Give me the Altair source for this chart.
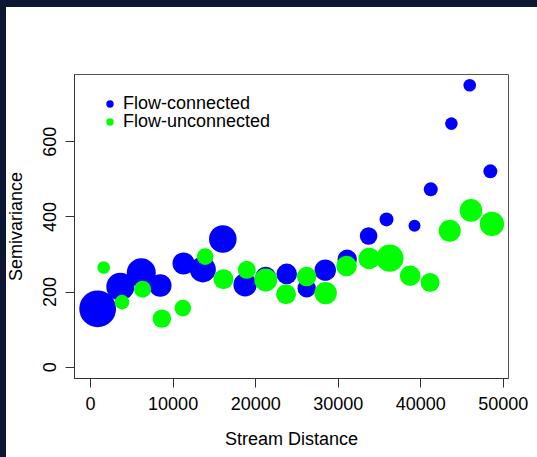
import altair as alt
import pandas as pd

# Torgegram: empirical semivariance per stream-distance bin, bubble size ~ number of pairs
connected_dist = [919, 3664, 6203, 8500, 11320, 13660, 16080, 18780, 21280, 23820,
                  26240, 28490, 31150, 33740, 35910, 39300, 41270, 43770, 45990, 48490]
connected_gamma = [154, 213, 250, 216, 275, 259, 340, 218, 238, 247,
                   209, 257, 286, 348, 392, 375, 472, 647, 749, 520]
connected_pairs = [184, 140, 145, 113, 110, 130, 138, 117, 105, 103,
                   92, 107, 97, 88, 70, 60, 70, 63, 63, 70]

unconnected_dist = [1650, 3870, 6360, 8700, 11240, 13940, 16160, 18980, 21280, 23740,
                    26240, 28540, 31070, 33810, 36310, 38770, 41190, 43570, 46140, 48680]
unconnected_gamma = [264, 172, 206, 128, 156, 293, 233, 258, 231, 193,
                     240, 196, 268, 288, 289, 242, 224, 362, 416, 380]
unconnected_pairs = [63, 73, 85, 92, 83, 83, 100, 90, 115, 100,
                     97, 112, 103, 107, 137, 103, 95, 110, 113, 122]

groups = ["Flow-connected", "Flow-unconnected"]
x_ticks = [0, 10000, 20000, 30000, 40000, 50000]
y_ticks = [0, 200, 400, 600]

df = pd.concat([
    pd.DataFrame({"distance": connected_dist, "gamma": connected_gamma,
                  "pairs": connected_pairs, "group": groups[0], "draw": 0}),
    pd.DataFrame({"distance": unconnected_dist, "gamma": unconnected_gamma,
                  "pairs": unconnected_pairs, "group": groups[1], "draw": 1}),
], ignore_index=True)

FONT = "Liberation Sans"
W, H = 434, 304
LEFT, TOP = 74, 74
TOTAL_W, TOTAL_H = 537, 457
NAVY = "#0b1733"

x_scale = alt.Scale(domain=[-1947, 50627], nice=False, zero=False)
y_scale = alt.Scale(domain=[-30, 779], nice=False, zero=False)

points = alt.Chart(df).mark_circle(opacity=1).encode(
    x=alt.X("distance:Q", scale=x_scale,
            axis=alt.Axis(values=x_ticks, format="d", title="Stream Distance",
                          labelBaseline="alphabetic", labelPadding=22,
                          titleY=66, titleBaseline="alphabetic")),
    y=alt.Y("gamma:Q", scale=y_scale,
            axis=alt.Axis(values=y_ticks, title="Semivariance",
                          labelAngle=270, labelAlign="center",
                          labelBaseline="alphabetic", labelPadding=10,
                          titleX=-53, titleBaseline="alphabetic")),
    size=alt.Size("pairs:Q", legend=None,
                  scale=alt.Scale(type="pow", exponent=2, domain=[0, 200], range=[0, 1600])),
    color=alt.Color("group:N",
                    scale=alt.Scale(domain=groups, range=["#0000ff", "#00ff00"]),
                    legend=alt.Legend(title=None, orient="none", legendX=27, legendY=21,
                                      padding=0, rowPadding=-1, symbolType="circle",
                                      symbolSize=55, symbolOpacity=1, symbolStrokeWidth=0,
                                      labelFont=FONT, labelFontSize=18, labelColor="#000",
                                      labelOffset=4)),
    order=alt.Order("draw:Q"),
)

# dark frame strips along the top and left edges of the canvas
one = pd.DataFrame({"k": [0]})
top_strip = alt.Chart(one).mark_rect(color=NAVY).encode(
    x=alt.value(-LEFT), x2=alt.value(TOTAL_W - LEFT),
    y=alt.value(-TOP), y2=alt.value(7 - TOP))
left_strip = alt.Chart(one).mark_rect(color=NAVY).encode(
    x=alt.value(-LEFT), x2=alt.value(6 - LEFT),
    y=alt.value(-TOP), y2=alt.value(TOTAL_H - TOP))

chart = alt.layer(top_strip, left_strip, points).properties(
    width=W, height=H,
    autosize=alt.AutoSizeParams(type="none"),
    padding={"left": LEFT, "top": TOP, "right": TOTAL_W - LEFT - W, "bottom": TOTAL_H - TOP - H},
    background="white",
).configure_view(
    stroke="#555", strokeWidth=1, fill="white"
).configure_axis(
    grid=False, domainColor="#333", domainWidth=1, tickColor="#333", tickSize=9,
    labelFont=FONT, labelFontSize=18, labelColor="#000",
    titleFont=FONT, titleFontSize=18, titleFontWeight="normal", titleColor="#000",
)

chart.save("out.html", embed_options={"renderer": "svg", "actions": False})
